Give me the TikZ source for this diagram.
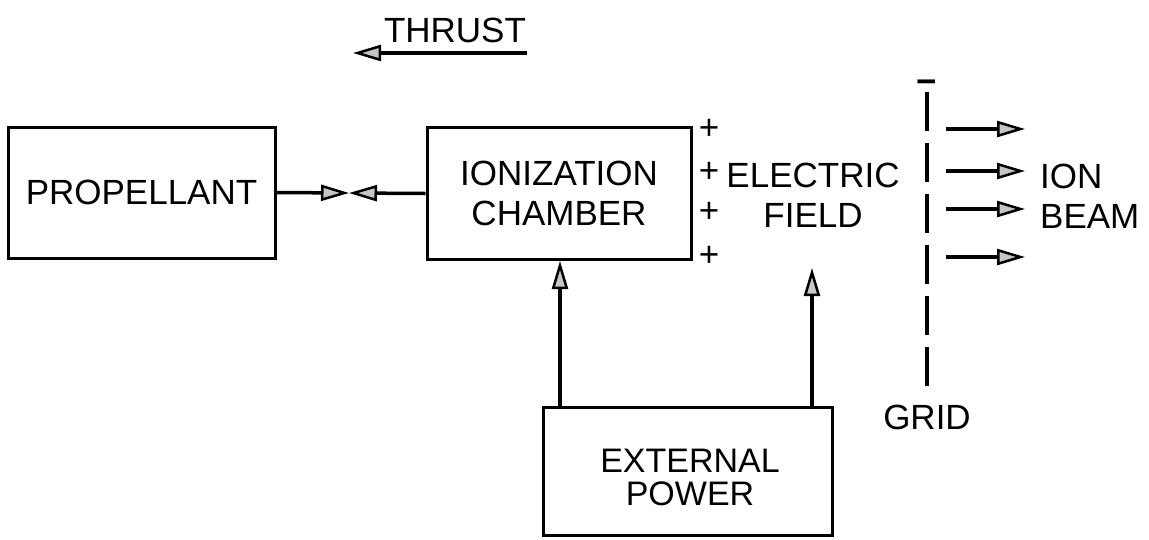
\documentclass[tikz,border=0pt]{standalone}
\usepackage{fontspec}
\setmainfont{Liberation Sans}
\usetikzlibrary{arrows.meta}
\begin{document}
\begin{tikzpicture}[x=1pt,y=-1pt,
  box/.style={draw,line width=3pt,inner sep=0pt,align=center,font=\fontsize{35}{40}\selectfont},
  lbl/.style={inner sep=0pt,align=center,font=\fontsize{35}{40}\selectfont},
  conn/.style={line width=3.5pt,-{Triangle[length=28pt,width=16pt,fill=gray!45,line width=2.5pt]}},
  gridline/.style={line width=3.5pt,dash pattern=on 39pt off 12pt}]
\useasboundingbox (0,0) rectangle (1149,539);
% boxes
\node[box,minimum width=267pt,minimum height=131pt] (prop) at (141.5,192.5) {PROPELLANT};
\node[box,minimum width=264pt,minimum height=132pt] (ion) at (559,193.5) {IONIZATION\\CHAMBER};
\node[box,minimum width=289pt,minimum height=128pt] (ext) at (687.5,471) {};
\node[lbl,font=\fontsize{34}{33}\selectfont] (extt) at (690,477) {EXTERNAL\\POWER};
% propellant <-> chamber
\coordinate (meet) at (349,193);
\draw[conn] (prop.east) -- (meet);
\draw[conn] (ion.west) -- (meet);
% power arrows
\coordinate (c1) at (560,0);
\coordinate (eftip) at (812,268);
\draw[conn] (ext.north -| c1) -- (ion.south -| c1);
\draw[conn] (ext.north -| eftip) -- (eftip);
% plus signs and field
\node[lbl] (p1) at (709,129) {+};
\node[lbl] (p2) at (709,172) {+};
\node[lbl] (p3) at (709,212) {+};
\node[lbl] (p4) at (709,256) {+};
\node[lbl] (field) at (813,195) {ELECTRIC\\FIELD};
% grid
\coordinate (gt) at (927,92);
\coordinate (gb) at (927,392);
\draw[gridline] (gt) -- (gb);
\node[lbl,font=\bfseries\fontsize{35}{40}\selectfont] (minus) at (927,87) {−};
\node[lbl] (grid) at (927,417) {GRID};
% ion beam
\foreach \i/\y in {1/129,2/171,3/209,4/257}{
  \coordinate (bs\i) at (946,\y);
  \coordinate (be\i) at (1025,\y);
  \draw[conn] (bs\i) -- (be\i);
}
\node[lbl,anchor=west,align=left] (beam) at (1040,196.5) {ION\\BEAM};
% thrust
\node[lbl] (thrust) at (455,30.5) {THRUST};
\coordinate (ts) at (527,53);
\coordinate (te) at (353,53);
\draw[conn] (ts) -- (te);
\end{tikzpicture}
\end{document}
